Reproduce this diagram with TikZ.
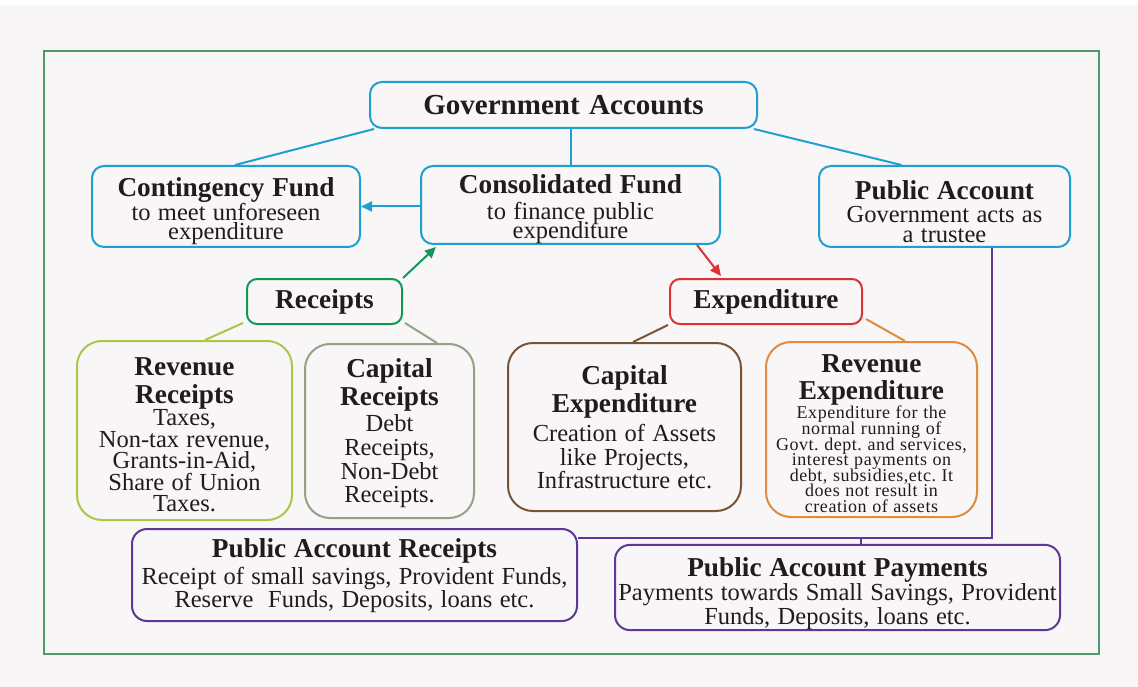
\documentclass[tikz,border=0pt]{standalone}
\usepackage{fontspec}
\setmainfont{Liberation Serif}
\usetikzlibrary{arrows.meta,calc}
\definecolor{bg}{RGB}{248,246,246}
\definecolor{txt}{RGB}{30,28,28}
\definecolor{frameg}{RGB}{80,155,110}
\definecolor{cblue}{RGB}{30,160,210}
\definecolor{cgreen}{RGB}{20,150,90}
\definecolor{cred}{RGB}{220,50,50}
\definecolor{cyg}{RGB}{170,200,70}
\definecolor{cgray}{RGB}{150,160,135}
\definecolor{cbrown}{RGB}{120,85,55}
\definecolor{corange}{RGB}{225,140,60}
\definecolor{cpurple}{RGB}{95,55,150}
\newcommand\wsp[1]{\spaceskip=#1em\relax\xspaceskip=\spaceskip}
\newcommand\govf{\fontsize{29}{30}\selectfont\bfseries\wsp{.33}}
\newcommand\titlef[1]{\fontsize{27.3}{#1}\selectfont\bfseries\wsp{.28}}
\newcommand\bodyf[1]{\fontsize{24.5}{#1}\selectfont\mdseries\wsp{.3}}
\newcommand\smallf[1]{\fontsize{18}{#1}\selectfont\mdseries\addfontfeature{LetterSpace=3}\wsp{.31}}
\newcommand\gap[1]{\par\vspace{#1pt}}
\newcommand\down[1]{\rule{0pt}{\dimexpr19pt+#1pt\relax}}
\lineskiplimit=-100pt
\begin{document}
\begin{tikzpicture}[x=1pt,y=-1pt,
  box/.style={draw=#1, line width=2pt, rounded corners=12pt, fill=bg, align=flush center, inner sep=0pt, text=txt,
    execute at begin node={\lineskiplimit=-100pt\relax}},
  bigbox/.style={box=#1, rounded corners=25pt},
  conn/.style={draw=#1, line width=2pt},
  arr/.style={conn=#1, -{Triangle[length=11pt,width=10pt]}}]
\fill[bg] (0,0) rectangle (1138,687);
\fill[white] (0,0) rectangle (1138,5);
\draw[frameg, line width=2.5pt] (44,51) rectangle (1099,654);

% top level
\node[box=cblue, minimum width=387, minimum height=46] (gov) at (563.5,105) {\govf Government Accounts};
\node[box=cblue, minimum width=268, minimum height=81, text width=268] (cont) at (226,206.5)
  {\titlef{28}\down{9}Contingency Fund\gap{5}\bodyf{19}to meet unforeseen\\expenditure\par};
\node[box=cblue, minimum width=299, minimum height=78, text width=299] (cons) at (570.5,205)
  {\titlef{28}\down{8}Consolidated Fund\gap{7}\bodyf{19}to finance public\\expenditure\par};
\node[box=cblue, minimum width=251, minimum height=81, text width=251] (pub) at (944.5,206.5)
  {\titlef{28}\down{10}Public Account\gap{3}\bodyf{20}Government acts as\\a trustee\par};

% second level
\node[box=cgreen, rounded corners=10pt, minimum width=155, minimum height=45] (rec) at (324.5,301.5) {\titlef{28}Receipts};
\node[box=cred, rounded corners=10pt, minimum width=192, minimum height=45] (exp) at (766,301.5) {\titlef{28}Expenditure};

% third level
\node[bigbox=cyg, minimum width=215, minimum height=179, text width=215] (rr) at (184.5,430.5)
  {\titlef{28}\down{8}Revenue\\Receipts\gap{0.5}\bodyf{21.5}Taxes,\\Non-tax revenue,\\Grants-in-Aid,\\Share of Union\\Taxes.\par};
\node[bigbox=cgray, minimum width=169, minimum height=174, text width=169] (cr) at (389.5,431)
  {\titlef{28}\down{5}Capital\\Receipts\gap{2.3}\bodyf{23.7}Debt\\Receipts,\\Non-Debt\\Receipts.\par};
\node[bigbox=cbrown, minimum width=233, minimum height=168, text width=233] (ce) at (624.5,427)
  {\titlef{28}Capital\\Expenditure\gap{6}\bodyf{23.5}Creation of Assets\\like Projects,\\Infrastructure etc.\par};
\node[bigbox=corange, minimum width=211, minimum height=175, text width=211] (re) at (871.5,429.5)
  {\titlef{27}\down{7}Revenue\\Expenditure\gap{4}\smallf{15.6}Expenditure for the\\normal running of\\Govt.\ dept.\ and services,\\interest payments on\\debt, subsidies,etc. It\\does not result in\\creation of assets\par};

% public account boxes
\node[box=cpurple, rounded corners=15pt, minimum width=445, minimum height=92, text width=445] (par) at (354.5,575)
  {\titlef{28}\down{1}Public Account Receipts\gap{4}\bodyf{23}Receipt of small savings, Provident Funds,\\Reserve\ \ Funds, Deposits, loans etc.\par};
\node[box=cpurple, rounded corners=15pt, minimum width=445, minimum height=83, text width=445] (pap) at (837.5,587.5)
  {\titlef{28}\down{13}Public Account Payments\gap{0}\bodyf{24}Payments towards Small Savings, Provident\\Funds, Deposits, loans etc.\par};

% connectors
\draw[conn=cblue] ($(gov.south west)+(5,0)$) -- ($(cont.north)+(9,0)$);
\draw[conn=cblue] (gov.south -| cons.north) -- (cons.north);
\draw[conn=cblue] ($(gov.south east)+(-4,0)$) -- ($(pub.north)+(-43,0)$);
\draw[arr=cblue] ($(cons.west)+(0,1.5)$) -- ($(cons.west -| cont.east)+(0,1.5)$);
\draw[arr=cgreen] (rec.north east) -- ($(cons.south west)+(16,2)$);
\draw[arr=cred] ($(cons.south east)+(-24,0)$) -- ($(exp.north)+(-45,-2)$);
\draw[conn=cyg] ($(rec.south west)+(-3,-2)$) -- ($(rr.north)+(20.5,0)$);
\draw[conn=cgray] ($(rec.south east)+(2,-2)$) -- ($(cr.north)+(47.5,0)$);
\draw[conn=cbrown] ($(exp.south west)+(-1,0)$) -- ($(ce.north)+(8.5,0)$);
\draw[conn=corange] ($(exp.south east)+(3,-6)$) -- ($(re.north)+(33.5,0)$);
\draw[conn=cpurple] ($(pub.south)+(47.5,0)$) |- ($(par.north east)+(0,10)$);
\draw[conn=cpurple] ($(pap.north)+(23.5,0)$) -- ($(pap.north)+(23.5,-7)$);
\end{tikzpicture}
\end{document}
